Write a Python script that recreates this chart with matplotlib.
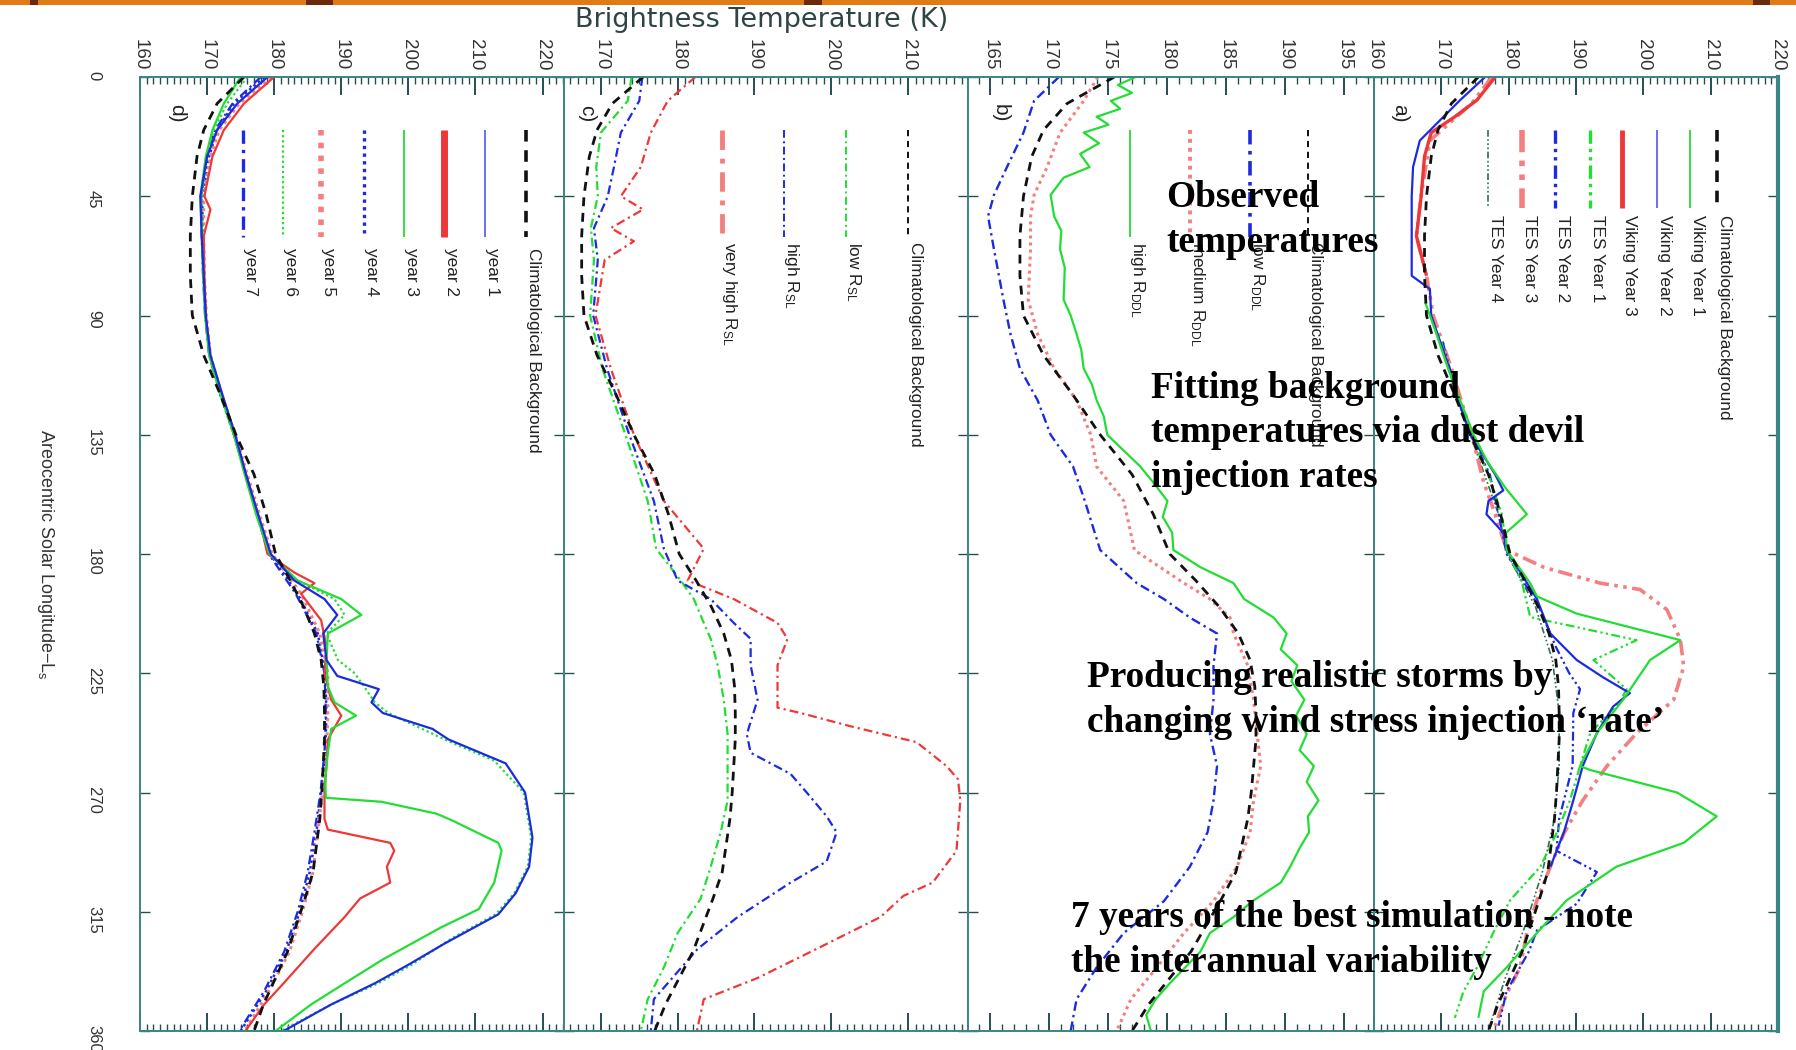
import matplotlib
matplotlib.use("Agg")
import matplotlib.pyplot as plt
from matplotlib.ticker import MultipleLocator, FixedLocator
from matplotlib.patches import Rectangle

plt.rcParams['font.family'] = ['Liberation Sans', 'DejaVu Sans']
plt.rcParams['mathtext.fontset'] = 'custom'
plt.rcParams['mathtext.rm'] = 'Liberation Sans'
plt.rcParams['mathtext.it'] = 'Liberation Sans:italic'

# ---------------------------------------------------------------- data
LS_TICKS = [0, 45, 90, 135, 180, 225, 270, 315, 360]

CLIM_LS = [0, 10, 20, 30, 45, 60, 75, 90, 105, 120, 135, 150, 165, 180,
           190, 200, 210, 220, 230, 240, 250, 260, 270, 280, 290, 300, 310, 320, 330, 340, 350, 360]
CLIM_T = [175.5, 171.5, 169.5, 168.5, 167.8, 167.5, 167.5, 167.8, 169.5, 172.0, 174.3, 177.0, 178.8, 180.2,
          182.4, 184.4, 186.0, 187.0, 187.4, 187.5, 187.5, 187.3, 187.1, 186.8, 186.3, 185.8, 184.6, 183.3,
          182.0, 180.2, 178.4, 177.0]

# panel d : seven simulated years
D_Y1_LS = [0, 10, 20, 30, 45, 60, 75, 90, 105, 120, 135, 150, 165, 180,
           190, 197, 203, 210, 220, 226, 231, 236, 240, 246, 250, 259, 270, 287, 298, 308, 316, 327, 335, 342, 350, 360]
D_Y1_T = [179, 174.5, 171.5, 170, 169, 169.2, 169.5, 169.8, 170.5, 172.3, 174.2, 175.8, 177.6, 179.5,
          183, 187.5, 189.4, 187.3, 187.8, 189.4, 195.6, 194.5, 196.2, 203.6, 206, 214.5, 217.4, 218.5, 218,
          216, 213.4, 205.4, 200, 195, 188.5, 181.4]
D_Y2_LS = [0, 10, 20, 30, 45, 50, 60, 75, 90, 105, 120, 135, 150, 165, 180,
           187, 191, 195, 205, 215, 225, 235, 241, 250, 260, 270, 280, 284, 289, 292, 298, 304, 310, 317, 329, 342, 350, 360]
D_Y2_T = [180, 175.5, 172.5, 170.8, 169.6, 170.5, 169.5, 169.6, 169.8, 170.4, 172.2, 174, 175.8, 177.6, 179,
          183, 186, 184, 187, 187.8, 187.5, 188.5, 190, 188, 187.8, 187.5, 187.5, 188, 197.3, 197.9, 196.8,
          197.3, 192.8, 190.5, 186, 181.4, 178.5, 175.7]
D_Y3_LS = [0, 10, 20, 30, 45, 60, 75, 90, 105, 120, 135, 150, 165, 180,
           190, 197, 203, 210, 220, 230, 236, 241, 246, 255, 265, 272, 273.5, 278, 280.5, 289, 292, 304, 314, 321,
           333, 342, 350, 360]
D_Y3_T = [175, 172.5, 170.8, 169.8, 169, 169.2, 169.4, 169.7, 170.3, 172, 174, 175.6, 177.3, 179.3,
          183.5, 190, 193, 188, 187.8, 188, 189, 192.2, 188.5, 188, 187.6, 187.7, 196, 204.2, 206.5, 213.4,
          213.9, 212.8, 210.5, 204.8, 196.2, 190.5, 185.5, 180.2]
D_Y6_LS = [0, 10, 20, 30, 45, 60, 75, 90, 105, 120, 135, 150, 165, 180,
           190, 197, 203, 210, 220, 225, 230, 236, 240, 250, 258, 270, 287, 298, 308, 316, 325, 335, 342, 350, 360]
D_Y6_T = [176, 173, 171, 170, 169.2, 169.4, 169.5, 169.8, 170.5, 172.2, 174, 175.7, 177.5, 179.4,
          183.5, 189, 190.5, 187.8, 189.5, 192, 193.4, 195, 197, 205.4, 212.8, 217.2, 218.3, 217.8, 215.8,
          213, 206.5, 200.5, 195.5, 188.5, 181]
D_QUIET_LS = [0, 10, 20, 30, 45, 60, 75, 90, 105, 120, 135, 150, 165, 180, 195, 210, 225, 240, 255, 270,
              285, 300, 315, 330, 345, 360]
D_Y4_T = [178.5, 174, 171.5, 170.3, 169.3, 169.3, 169.5, 169.8, 170.4, 172, 174, 175.8, 177.5, 179.4, 183.5,
          186.5, 187.6, 187.8, 187.6, 187, 186.3, 185.3, 183.8, 181.8, 178.8, 175]
D_Y5_T = [179.5, 174.8, 171.8, 170.5, 169.5, 169.5, 169.6, 169.9, 170.5, 172.2, 174.2, 176, 177.8, 179.7, 184,
          186.8, 188, 188, 187.8, 187.2, 186.5, 185.8, 184.2, 182.3, 179.2, 175.6]
D_Y7_T = [178, 173.8, 171.2, 170, 169.1, 169.2, 169.4, 169.7, 170.3, 172, 174.1, 175.8, 177.4, 179.2, 183.2,
          186.3, 187.5, 187.7, 187.5, 186.9, 186, 185, 183.5, 181.5, 178.5, 174.8]

# panel c : wind-stress lifting rates
C_LOW_LS = [0, 9, 21, 34, 45, 57, 69, 90, 110, 135, 160, 178, 190, 197, 206, 212, 222, 235, 248, 273,
            285, 298, 310, 323, 336, 348, 360]
C_LOW_T = [174, 173.5, 170, 169.4, 169.6, 168.7, 169.1, 168.6, 170.2, 173.2, 176.1, 177.2, 180.4, 182.1,
           183.4, 184.3, 185.2, 186, 186.5, 186.5, 185.6, 184.3, 183, 180, 178.2, 176.1, 175.2]
C_HIGH_LS = [0, 9, 21, 34, 45, 57, 69, 90, 110, 135, 160, 178, 190, 197, 206, 212, 222, 235, 248, 255,
             263, 270, 279, 285, 296, 304, 317, 329, 342, 348, 360]
C_HIGH_T = [175.4, 175, 172.6, 171.7, 170.9, 169.1, 169.6, 169, 170.8, 173.7, 176.9, 178.2, 180, 184.3,
            187.3, 189.5, 189.5, 190.4, 189, 189.5, 194.7, 196.8, 199.4, 200.7, 199.4, 194.7, 187.8, 182.6,
            178.7, 176.9, 176.5]
C_VHIGH_LS = [0, 9, 21, 34, 45, 50, 57, 62, 69, 90, 110, 135, 160, 178, 190, 197, 206, 212, 222, 234,
              238, 240, 245, 248, 251, 260, 265, 273, 292, 304, 309, 317, 329, 340, 348, 360]
C_VHIGH_T = [182.3, 178.7, 176.5, 175.2, 172.6, 175.5, 171.3, 174.3, 170.5, 169.3, 171.3, 174.3, 178.2,
             183.4, 181.3, 187.3, 193, 194.3, 193, 193, 193, 196, 202.5, 206.8, 211.1, 215, 216.5, 216.8,
             216.3, 213.2, 209.4, 206.4, 198.1, 190.4, 183.4, 182.5]

# panel b : dust devil lifting rates
B_LS = [0, 9, 21, 34, 44.5, 52.6, 65, 84, 97, 110, 122, 135, 147, 160, 178.5, 191, 197, 204, 210, 222,
        235, 248, 260, 273, 285, 298, 311, 323, 336, 348, 360]
B_LOW_T = [170.8, 168.7, 167.8, 166.4, 165.3, 164.8, 165.3, 166.1, 166.7, 167.5, 169, 170.1, 172, 173,
           174.3, 177.4, 179.7, 181.9, 184.2, 183.9, 183.9, 183.6, 184.2, 183.9, 183.4, 181.9, 179.7, 176.3,
           174, 172.3, 171.8]
B_MED_T = [174.1, 172.9, 170.9, 169.8, 168.7, 168.4, 168.4, 168.2, 169, 170.4, 172.3, 173.5, 174, 176.3,
           177.2, 181.4, 183.6, 185.3, 185.6, 186.8, 187.3, 187.6, 187.9, 187.3, 187, 185.9, 183.9, 181.4,
           179.1, 176.9, 175.7]
B_HIGH_LS = [0, 3, 6, 9, 12, 15, 18, 21, 25, 29, 34, 38, 44.5, 52.6, 58, 65, 72, 84, 90, 97, 103, 110,
             116, 122, 128, 135, 141, 147, 153, 160, 166, 172, 178.5, 185, 191, 197, 204, 210, 216, 222, 228,
             235, 241, 248, 254, 260, 266, 273, 279, 285, 291, 298, 304, 311, 317, 323, 330, 336, 342, 348,
             354, 360]
B_HIGH_T = [177.3, 175.8, 177.0, 175.2, 176.0, 174.0, 175.0, 172.9, 174.2, 172.6, 173.4, 171.2, 170.1,
            170.4, 171.0, 170.9, 171.3, 171.2, 171.8, 172.3, 172.7, 172.9, 173.6, 174.0, 174.6, 174.9, 176.3,
            177.7, 178.8, 180.0, 179.6, 180.4, 180.5, 182.8, 185.6, 186.5, 189.0, 190.1, 189.6, 191.0, 190.5,
            191.6, 190.9, 191.8, 191.2, 192.4, 191.8, 192.8, 191.9, 192.0, 191.2, 190.4, 189.6, 187.2, 185.6,
            183.6, 182.8, 181.5, 180.2, 179.0, 178.2, 178.6]

# panel a : observations
A_VY1_LS = [85, 95, 110, 122, 135, 145, 155, 165, 172, 178.5, 191, 196, 202.5, 212.5, 220, 235, 247.6,
            260, 261.5, 270, 279, 289, 298, 310.7, 323, 336, 345, 355]
A_VY1_T = [167.6, 169, 171, 172.8, 174.8, 176.8, 179.5, 182.7, 179.6, 179.7, 183.2, 184.2, 190.1, 205.5,
           201, 197, 193.1, 190.6, 192.1, 205, 210.9, 206, 196, 188.6, 184.2, 179.7, 176.3, 175.5]
A_VY2_LS = [0, 8.7, 24, 34, 45, 59, 75, 80, 90, 110, 122, 135, 150, 156, 160, 165, 172, 178.5, 197, 210,
            220, 226.5, 232.5, 237.6, 247.6, 260, 273, 285, 298]
A_VY2_T = [176.5, 172.8, 166.8, 165.8, 165.6, 165.6, 165.6, 168.3, 168.5, 171.2, 172.5, 174.3, 178, 179.2,
           177, 176.7, 179.2, 179.7, 184.2, 186.2, 190.1, 194, 198, 195.5, 193.1, 191, 189.6, 188.2, 186.2]
A_VY3_LS = [0, 8.7, 15, 21, 30, 45, 60, 75]
A_VY3_T = [178, 175.3, 172, 168.5, 167.5, 167, 166.3, 167.8]
A_TES1_LS = [100, 120, 135, 150, 165, 178.5, 191, 203.8, 212.5, 220, 231, 236, 247.6, 260, 273, 285.4,
             298, 310.7, 323, 336, 345, 355]
A_TES1_T = [170, 172.2, 174.3, 177, 179, 179.7, 182, 183.2, 199, 192.6, 197.5, 196.5, 192.1, 190.6, 189.1,
            187.1, 184.7, 180.2, 177.7, 175.3, 173.3, 172]
A_TES2_LS = [100, 120, 135, 150, 165, 180, 200, 215, 225, 231, 240, 260, 280, 292, 300, 312, 322, 330, 345, 358]
A_TES2_T = [170.2, 172.3, 174.4, 177.2, 178.5, 179.7, 184.5, 187, 189, 190.6, 189.6, 189.5, 187.5, 187.1,
            193.1, 190.1, 184.2, 183, 179.7, 178.5]
A_TES3_LS = [0, 10, 24, 45, 60, 75, 90, 110, 135, 153, 165, 178.5, 185, 191, 193.4, 201, 212.3, 222.5, 235,
             247.6, 260, 273, 285.4, 298, 310.7, 323, 336, 346, 358]
A_TES3_T = [177.5, 174.5, 168.3, 167, 166.3, 167.8, 168.8, 171.5, 174.5, 176.3, 178, 179.7, 185.2, 193.6,
            199.5, 203.5, 205.5, 206, 204.5, 199, 194.6, 191, 188.2, 186.2, 184.2, 182.7, 181.7, 179.7, 178]
A_TES4_LS = [100, 135, 165, 180, 200, 220, 240, 260, 280, 300, 320, 340, 358]
A_TES4_T = [170, 174.3, 178.5, 179.8, 184, 186.5, 187.5, 187.5, 186.8, 185, 182.5, 179.5, 177.2]

LEG_D = ["Climatological Background", "year 1", "year 2", "year 3", "year 4", "year 5", "year 6", "year 7"]
LEG_C = ["Climatological Background", r"low R$_{\mathrm{SL}}$", r"high R$_{\mathrm{SL}}$",
         r"very high R$_{\mathrm{SL}}$"]
LEG_B = ["Climatological Background", r"low R$_{\mathrm{DDL}}$", r"medium R$_{\mathrm{DDL}}$",
         r"high R$_{\mathrm{DDL}}$"]
LEG_A = ["Climatological Background", "Viking Year 1", "Viking Year 2", "Viking Year 3",
         "TES Year 1", "TES Year 2", "TES Year 3", "TES Year 4"]

# ---------------------------------------------------------------- styles
K = '#111111'; BLUE = '#1c2ae0'; RED = '#ee3838'; GREEN = '#22dd33'
PINK = '#f28080'; LAV = '#5f62f0'; DKG = '#2f6f55'
DASH = (0, (3.2, 2.4)); DASHDOT = (0, (4, 1.8, 1, 1.8)); DOT = (0, (1, 1.3))
DDOT = (0, (4, 1.5, 1, 1.5, 1, 1.5)); D3DOT = (0, (4, 1.5, 1, 1.5, 1, 1.5, 1, 1.5))
SPINE_C = '#3a8585'; TICK_C = '#274f4f'; LAB_C = '#333333'

W, H = 1796, 1050
fig = plt.figure(figsize=(W / 100, H / 100), dpi=100)
fig.patch.set_facecolor('white')
AX_TOP, AX_BOT = 77, 1031
BOX = {'d': (140, 564), 'c': (564, 968), 'b': (968, 1374), 'a': (1374, 1778)}
XLIM = {'d': (160, 223.2), 'c': (165.2, 217.8), 'b': (163.1, 197.5), 'a': (160, 220)}
XSTEP = {'d': 10, 'c': 10, 'b': 5, 'a': 10}

axes = {}
for name, (l, r) in BOX.items():
    ax = fig.add_axes([l / W, 1 - AX_BOT / H, (r - l) / W, (AX_BOT - AX_TOP) / H])
    ax.set_xlim(*XLIM[name])
    ax.set_ylim(360, 0)
    ax.yaxis.set_major_locator(FixedLocator(LS_TICKS))
    ax.xaxis.set_major_locator(MultipleLocator(XSTEP[name]))
    ax.xaxis.set_minor_locator(MultipleLocator(1))
    ax.tick_params(axis='x', which='both', direction='in', top=True, bottom=True,
                   labeltop=True, labelbottom=False, color=TICK_C)
    ax.tick_params(axis='x', which='major', length=13, width=1.4, labelrotation=-90,
                   labelsize=13.5, labelcolor=LAB_C, pad=5)
    ax.tick_params(axis='x', which='minor', length=5, width=1.0)
    ax.tick_params(axis='y', which='both', direction='in', left=True, right=True, length=7,
                   width=1.0, color=TICK_C, labelleft=(name == 'd'), labelright=False,
                   labelrotation=-90, labelsize=12, labelcolor=LAB_C, pad=28)
    for s in ax.spines.values():
        s.set_color(SPINE_C)
        s.set_linewidth(1.4)
    axes[name] = ax
axes['a'].spines['right'].set_linewidth(3)

axes['d'].set_ylabel(r"Areocentric Solar Longitude$-$L$_{\mathrm{s}}$", rotation=-90, ha='center',
                     va='center', fontsize=13, color=LAB_C)
axes['d'].yaxis.set_label_coords(-0.222, 0.5)


def draw(ax, lsv, tv, **kw):
    ax.plot(tv, lsv, solid_capstyle='butt', **kw)


# panel d
ax = axes['d']
draw(ax, D_QUIET_LS, D_Y4_T, color=BLUE, lw=1.8, ls=DOT)
draw(ax, D_QUIET_LS, D_Y5_T, color=PINK, lw=2.2, ls=DOT)
draw(ax, D_QUIET_LS, D_Y7_T, color=BLUE, lw=1.6, ls=DASHDOT)
draw(ax, D_Y6_LS, D_Y6_T, color=GREEN, lw=1.6, ls=DOT)
draw(ax, D_Y2_LS, D_Y2_T, color=RED, lw=1.6)
draw(ax, D_Y3_LS, D_Y3_T, color=GREEN, lw=1.6)
draw(ax, D_Y1_LS, D_Y1_T, color=BLUE, lw=1.6)
draw(ax, CLIM_LS, CLIM_T, color=K, lw=2.0, ls=DASH)

# panel c
ax = axes['c']
draw(ax, C_LOW_LS, C_LOW_T, color=GREEN, lw=1.6, ls=DASHDOT)
draw(ax, C_HIGH_LS, C_HIGH_T, color=BLUE, lw=1.6, ls=DASHDOT)
draw(ax, C_VHIGH_LS, C_VHIGH_T, color=RED, lw=1.6, ls=DASHDOT)
draw(ax, CLIM_LS, CLIM_T, color=K, lw=2.0, ls=DASH)

# panel b
ax = axes['b']
draw(ax, B_LS, B_LOW_T, color=BLUE, lw=1.7, ls=DASHDOT)
draw(ax, B_LS, B_MED_T, color=PINK, lw=2.2, ls=DOT)
draw(ax, B_HIGH_LS, B_HIGH_T, color=GREEN, lw=1.6)
draw(ax, CLIM_LS, CLIM_T, color=K, lw=2.0, ls=DASH)

# panel a
ax = axes['a']
draw(ax, A_TES4_LS, A_TES4_T, color=DKG, lw=1.2, ls=D3DOT)
draw(ax, A_TES3_LS, A_TES3_T, color=PINK, lw=2.6, ls=DDOT)
draw(ax, A_TES2_LS, A_TES2_T, color=BLUE, lw=1.6, ls=DDOT)
draw(ax, A_TES1_LS, A_TES1_T, color=GREEN, lw=1.6, ls=DDOT)
draw(ax, A_VY3_LS, A_VY3_T, color=RED, lw=2.4)
draw(ax, A_VY2_LS, A_VY2_T, color=BLUE, lw=1.6)
draw(ax, A_VY1_LS, A_VY1_T, color=GREEN, lw=1.6)
draw(ax, CLIM_LS, CLIM_T, color=K, lw=2.0, ls=DASH)

# ---------------------------------------------------------------- legends (rotated)
LEG_STYLE_D = [dict(color=K, lw=2.6, ls=DASH), dict(color=LAV, lw=1.3), dict(color=RED, lw=5),
               dict(color=GREEN, lw=1.3), dict(color=BLUE, lw=2.4, ls=DOT), dict(color=PINK, lw=4, ls=DOT),
               dict(color=GREEN, lw=1.6, ls=DOT), dict(color=BLUE, lw=2.4, ls=DASHDOT)]
LEG_STYLE_C = [dict(color=K, lw=1.4, ls=DASH), dict(color=GREEN, lw=1.4, ls=DASHDOT),
               dict(color=BLUE, lw=1.4, ls=DASHDOT), dict(color=PINK, lw=3.5, ls=DASHDOT)]
LEG_STYLE_B = [dict(color=K, lw=1.4, ls=DASH), dict(color=BLUE, lw=2.6, ls=DASHDOT),
               dict(color=PINK, lw=2.8, ls=DOT), dict(color=GREEN, lw=1.3)]
LEG_STYLE_A = [dict(color=K, lw=2.6, ls=DASH), dict(color=GREEN, lw=1.3), dict(color=LAV, lw=1.3),
               dict(color=RED, lw=3.5), dict(color=GREEN, lw=2.4, ls=DDOT), dict(color=BLUE, lw=2.4, ls=DDOT),
               dict(color=PINK, lw=4, ls=DDOT), dict(color=DKG, lw=1.2, ls=D3DOT)]

LEG_LAYOUT = {
    'd': (LEG_D, LEG_STYLE_D, [0.910, 0.814, 0.717, 0.623, 0.528, 0.427, 0.337, 0.243], 0.8323, 0.8208),
    'c': (LEG_C, LEG_STYLE_C, [0.851, 0.697, 0.545, 0.392], 0.8323, 0.8270),
    'b': (LEG_B, LEG_STYLE_B, [0.837, 0.695, 0.547, 0.399], 0.8323, 0.8270),
    'a': (LEG_A, LEG_STYLE_A, [0.848, 0.782, 0.700, 0.613, 0.535, 0.448, 0.366, 0.283], 0.8627, 0.8553),
}
for name, (labels, styles, xs, yend, ytext) in LEG_LAYOUT.items():
    ax = axes[name]
    l, r = BOX[name]
    dx = 7.5 / (r - l)
    for lab, st, x in zip(labels, styles, xs):
        ax.plot([x, x], [0.9444, yend], transform=ax.transAxes, solid_capstyle='butt', **st)
        ax.text(x + dx, ytext, lab, transform=ax.transAxes, rotation=-90, rotation_mode='anchor',
                ha='left', va='center', fontsize=12.4, color='#222222')

for name, xf in {'d': 0.087, 'c': 0.057, 'b': 0.079, 'a': 0.064}.items():
    axes[name].text(xf, 0.962, name + ')', transform=axes[name].transAxes, rotation=-90,
                    ha='center', va='center', fontsize=15, color='#222222')

# ---------------------------------------------------------------- figure texts
fig.text(762 / W, 1 - 20 / H, "Brightness Temperature (K)", ha='center', va='center',
         fontsize=19.5, color='#2f4545', family=['DejaVu Sans'])

SERIF = dict(family=['Liberation Serif', 'DejaVu Serif'], fontweight='bold', fontsize=26.8,
             color='black', ha='left', va='center', linespacing=1.36)
fig.text(1166 / W, 1 - 220 / H, "Observed\ntemperatures", **SERIF)
fig.text(1151 / W, 1 - 433 / H, "Fitting background\ntemperatures via dust devil\ninjection rates", **SERIF)
fig.text(1087 / W, 1 - 700 / H, "Producing realistic storms by\nchanging wind stress injection \u2018rate\u2019",
         **SERIF)
fig.text(1071 / W, 1 - 940 / H, "7 years of the best simulation - note\nthe interannual variability", **SERIF)

# slide decoration strip at the top
fig.add_artist(Rectangle((0, 1 - 4.5 / H), 1, 4.5 / H, transform=fig.transFigure,
                         color='#e07a14', lw=0))
for x0, w0 in [(30, 8), (306, 27), (804, 18), (1753, 17)]:
    fig.add_artist(Rectangle((x0 / W, 1 - 5 / H), w0 / W, 5 / H, transform=fig.transFigure,
                             color='#6b2a0c', lw=0))

fig.savefig('out.png', dpi=100, facecolor='white')
